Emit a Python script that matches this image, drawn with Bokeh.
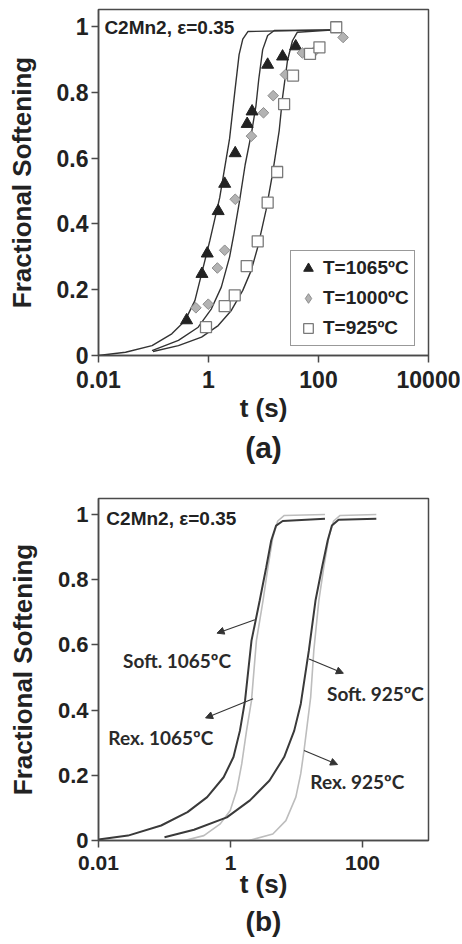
from bokeh.plotting import figure
from bokeh.models import Range1d, FixedTicker, Label, Arrow, NormalHead, Title, LegendItem, Legend
from bokeh.layouts import column
from bokeh.embed import file_html
from bokeh.resources import INLINE

# ---------------- Panel (a) data ----------------
t1065 = [0.40, 0.76, 0.95, 1.5, 1.97, 3.06, 5.05, 6.2, 11.9, 22.2, 38.5]
f1065 = [0.107, 0.248, 0.31, 0.439, 0.522, 0.615, 0.704, 0.742, 0.884, 0.909, 0.94]
t1000 = [0.59, 0.99, 1.45, 1.97, 3.06, 6.03, 10.0, 15.0, 25.0, 50.8, 90.0, 280.0]
f1000 = [0.145, 0.156, 0.266, 0.32, 0.475, 0.667, 0.738, 0.79, 0.854, 0.92, 0.929, 0.967]
t925 = [0.9, 1.97, 3.0, 4.95, 7.85, 11.9, 17.7, 23.7, 34.4, 70.0, 104.0, 210.0]
f925 = [0.086, 0.15, 0.183, 0.272, 0.347, 0.465, 0.558, 0.764, 0.851, 0.917, 0.937, 0.998]

fit1065_t = [0.01, 0.031, 0.094, 0.215, 0.374, 0.566, 0.748, 1.06, 1.6, 2.42, 3.0, 3.6, 4.2, 5.2, 200.0]
fit1065_f = [0.0, 0.010, 0.030, 0.066, 0.106, 0.167, 0.248, 0.35, 0.48, 0.66, 0.80, 0.915, 0.962, 0.985, 0.99]
fit1000_t = [0.094, 0.284, 0.65, 1.13, 1.71, 2.42, 2.9, 3.67, 4.64, 6.1, 7.3, 8.2, 9.66, 11.9, 15.7, 200.0]
fit1000_f = [0.015, 0.046, 0.086, 0.142, 0.208, 0.30, 0.37, 0.47, 0.58, 0.68, 0.76, 0.84, 0.93, 0.973, 0.988, 0.99]
fit925_t = [0.098, 0.284, 0.748, 1.5, 2.6, 4.2, 5.96, 7.85, 11.1, 14.6, 19.3, 22.2, 27.3, 33.6, 41.3, 200.0]
fit925_f = [0.012, 0.03, 0.056, 0.091, 0.137, 0.198, 0.258, 0.329, 0.441, 0.552, 0.684, 0.785, 0.897, 0.957, 0.983, 0.99]

xticks_a = [0.01, 1, 100, 10000]
xlabels_a = ["0.01", "1", "100", "10000"]
legend_a = ["T=1065ºC", "T=1000ºC", "T=925ºC"]

# ---------------- Panel (b) data ----------------
soft1065_t = [0.01, 0.028, 0.089, 0.223, 0.443, 0.787, 1.11, 1.39, 1.66, 2.08, 2.77, 3.48, 4.14, 4.91, 6.18, 27.0]
soft1065_f = [0.003, 0.015, 0.046, 0.087, 0.133, 0.194, 0.256, 0.337, 0.429, 0.613, 0.736, 0.838, 0.92, 0.966, 0.98, 0.987]
rex1065_t = [0.2, 0.395, 0.70, 0.99, 1.24, 1.48, 1.75, 2.08, 2.47, 3.11, 3.69, 4.38, 5.2, 6.54, 27.0]
rex1065_f = [0.0, 0.015, 0.051, 0.092, 0.153, 0.235, 0.337, 0.429, 0.613, 0.736, 0.838, 0.93, 0.98, 0.997, 1.0]
soft925_t = [0.1, 0.28, 0.88, 1.97, 3.9, 6.5, 9.24, 11.6, 15.4, 19.4, 24.4, 29.7, 34.4, 43.4, 162.0]
soft925_f = [0.01, 0.033, 0.071, 0.123, 0.184, 0.256, 0.337, 0.419, 0.583, 0.736, 0.838, 0.92, 0.966, 0.984, 0.987]
rex925_t = [1.9, 4.38, 6.9, 9.77, 11.6, 13.0, 14.6, 16.4, 18.3, 21.8, 25.9, 30.8, 36.5, 45.8, 162.0]
rex925_f = [0.0, 0.02, 0.061, 0.133, 0.205, 0.276, 0.358, 0.44, 0.583, 0.736, 0.838, 0.93, 0.98, 0.997, 1.0]

xticks_b = [0.01, 1, 100]
xlabels_b = ["0.01", "1", "100"]

yticks = [0, 0.2, 0.4, 0.6, 0.8, 1]
ylabels = ["0", "0.2", "0.4", "0.6", "0.8", "1"]

FONT = "Liberation Sans"
DARK = "#333333"
FRAME = "#4a4a4a"
TXT = "#222222"


def style(p, xticks, xlabels, xtick_size, ytick_size):
    p.xgrid.visible = False
    p.ygrid.visible = False
    p.outline_line_color = FRAME
    p.outline_line_width = 1.5
    p.xaxis.ticker = FixedTicker(ticks=xticks)
    p.xaxis.major_label_overrides = dict(zip(xticks, xlabels))
    p.yaxis.ticker = FixedTicker(ticks=yticks)
    p.yaxis.major_label_overrides = dict(zip(yticks, ylabels))
    for ax in (p.xaxis[0], p.yaxis[0]):
        ax.axis_line_color = FRAME
        ax.axis_line_width = 1.5
        ax.major_tick_line_color = FRAME
        ax.major_tick_line_width = 1.5
        ax.major_tick_in = 0
        ax.major_tick_out = 7
        ax.minor_tick_line_color = None
        ax.major_label_text_font = FONT
        ax.major_label_text_font_style = "bold"
        ax.major_label_text_color = TXT
        ax.axis_label_text_font = FONT
        ax.axis_label_text_font_style = "bold"
        ax.axis_label_text_font_size = "26px"
        ax.axis_label_text_color = TXT
    p.xaxis.major_label_text_font_size = xtick_size
    p.yaxis.major_label_text_font_size = ytick_size
    p.xaxis.axis_label = "t (s)"
    p.yaxis.axis_label = "Fractional Softening"
    p.yaxis.major_label_standoff = 3
    p.yaxis.axis_label_standoff = 17


# ---------------- Panel (a) ----------------
p1 = figure(width=460, height=478, x_axis_type="log",
            x_range=Range1d(0.01, 10000), y_range=Range1d(0, 1.052),
            output_backend="svg", toolbar_location=None,
            min_border_left=96, min_border_right=32, min_border_top=9,
            min_border_bottom=123)
style(p1, xticks_a, xlabels_a, "23px", "23px")
p1.xaxis.major_label_standoff = 8
p1.xaxis.axis_label_standoff = 2

for ft, ff in ((fit1065_t, fit1065_f), (fit1000_t, fit1000_f), (fit925_t, fit925_f)):
    p1.line(ft, ff, line_color=DARK, line_width=1.4)

r_tri = p1.scatter(t1065, f1065, marker="triangle", size=12, fill_color="#222222",
                   line_color="#222222")
p1.scatter(t1000, f1000, marker="square", angle=0.785, size=7.5, fill_color="#b3b3b3",
           line_color="#8c8c8c")
# same points, zero size: only supplies the diamond symbol for the legend
r_dia_leg = p1.scatter(t1000, f1000, marker="diamond", size=0, fill_color="#b3b3b3",
                       line_color="#8c8c8c")
r_sq = p1.scatter(t925, f925, marker="square", size=11, fill_color="white",
                  line_color="#7a7a7a", line_width=1.3)

lg = Legend(items=[LegendItem(label=legend_a[0], renderers=[r_tri]),
                   LegendItem(label=legend_a[1], renderers=[r_dia_leg]),
                   LegendItem(label=legend_a[2], renderers=[r_sq])])
lg.location = (192, 9)
lg.border_line_color = DARK
lg.border_line_width = 1.5
lg.background_fill_alpha = 1
lg.label_text_font = FONT
lg.label_text_font_style = "bold"
lg.label_text_font_size = "19px"
lg.label_text_color = TXT
lg.glyph_width = 24
lg.glyph_height = 24
lg.label_height = 24
lg.label_standoff = 3
lg.spacing = 6
lg.padding = 5
lg.margin = 0
p1.add_layout(lg, "center")

p1.add_layout(Label(x=0.0128, y=0.997, text="C2Mn2, ε=0.35", text_baseline="middle",
                    text_font=FONT, text_font_style="bold", text_font_size="19px",
                    text_color=TXT))
p1.add_layout(Title(text="(a)", align="center", text_font=FONT, text_font_style="bold",
                    text_font_size="30px", text_color=TXT, standoff=6), "below")

# ---------------- Panel (b) ----------------
p2 = figure(width=460, height=466, x_axis_type="log",
            x_range=Range1d(0.01, 1000), y_range=Range1d(0, 1.049),
            output_backend="svg", toolbar_location=None,
            min_border_left=98, min_border_right=27, min_border_top=20,
            min_border_bottom=104)
style(p2, xticks_b, xlabels_b, "21px", "22px")
p2.xaxis.major_label_standoff = 8
p2.xaxis.axis_label_standoff = -4

LIGHT = "#bdbdbd"
p2.line(rex1065_t, rex1065_f, line_color=LIGHT, line_width=1.6)
p2.line(rex925_t, rex925_f, line_color=LIGHT, line_width=1.6)
p2.line(soft1065_t, soft1065_f, line_color="#3a3a3a", line_width=2)
p2.line(soft925_t, soft925_f, line_color="#3a3a3a", line_width=2)

arrows = [
    (2.34, 0.677, 0.625, 0.636),
    (2.2, 0.435, 0.419, 0.376),
    (15.5, 0.557, 51.3, 0.513),
    (13.0, 0.276, 41.9, 0.233),
]
for xs, ys, xe, ye in arrows:
    p2.add_layout(Arrow(end=NormalHead(size=7, fill_color=DARK, line_color=DARK),
                        x_start=xs, y_start=ys, x_end=xe, y_end=ye,
                        line_color=DARK, line_width=1.1))

labels_b = [
    ("Soft. 1065ºC", 0.0236, 0.552),
    ("Rex. 1065ºC", 0.0141, 0.316),
    ("Soft. 925ºC", 29.0, 0.452),
    ("Rex. 925ºC", 16.2, 0.182),
]
for txt, lx, ly in labels_b:
    p2.add_layout(Label(x=lx, y=ly, text=txt, text_baseline="middle",
                        text_font="Lato", text_font_style="bold", text_font_size="19px",
                        text_color="#2a2a2a"))

p2.add_layout(Label(x=0.01316, y=0.988, text="C2Mn2, ε=0.35", text_baseline="middle",
                    text_font=FONT, text_font_style="bold", text_font_size="19px",
                    text_color=TXT))
p2.add_layout(Title(text="(b)", align="center", text_font=FONT, text_font_style="bold",
                    text_font_size="28px", text_color=TXT, standoff=5), "below")

layout = column(p1, p2)
open("out.html", "w").write(file_html(layout, INLINE))
